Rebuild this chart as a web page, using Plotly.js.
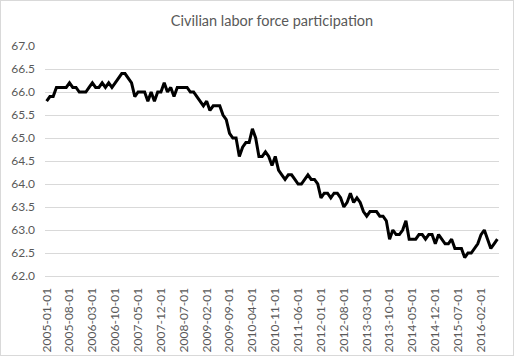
<!DOCTYPE html>
<html>
<head>
<meta charset="utf-8">
<script src="https://cdn.plot.ly/plotly-3.0.1.min.js"></script>
<style>
html,body{margin:0;padding:0;background:#fff;}
#chart{width:514px;height:356px;box-sizing:border-box;border:1px solid #d9d9d9;}
</style>
</head>
<body>
<div id="chart"></div>
<script>
// Monthly civilian labor force participation rate (%)
var v2005 = [65.8, 65.9, 65.9, 66.1, 66.1, 66.1, 66.1, 66.2, 66.1, 66.1, 66.0, 66.0];
var v2006 = [66.0, 66.1, 66.2, 66.1, 66.1, 66.2, 66.1, 66.2, 66.1, 66.2, 66.3, 66.4];
var v2007 = [66.4, 66.3, 66.2, 65.9, 66.0, 66.0, 66.0, 65.8, 66.0, 65.8, 66.0, 66.0];
var v2008 = [66.2, 66.0, 66.1, 65.9, 66.1, 66.1, 66.1, 66.1, 66.0, 66.0, 65.9, 65.8];
var v2009 = [65.7, 65.8, 65.6, 65.7, 65.7, 65.7, 65.5, 65.4, 65.1, 65.0, 65.0, 64.6];
var v2010 = [64.8, 64.9, 64.9, 65.2, 65.0, 64.6, 64.6, 64.7, 64.6, 64.4, 64.6, 64.3];
var v2011 = [64.2, 64.1, 64.2, 64.2, 64.1, 64.0, 64.0, 64.1, 64.2, 64.1, 64.1, 64.0];
var v2012 = [63.7, 63.8, 63.8, 63.7, 63.8, 63.8, 63.7, 63.5, 63.6, 63.8, 63.6, 63.7];
var v2013 = [63.6, 63.4, 63.3, 63.4, 63.4, 63.4, 63.3, 63.3, 63.2, 62.8, 63.0, 62.9];
var v2014 = [62.9, 63.0, 63.2, 62.8, 62.8, 62.8, 62.9, 62.9, 62.8, 62.9, 62.9, 62.7];
var v2015 = [62.9, 62.8, 62.7, 62.7, 62.8, 62.6, 62.6, 62.6, 62.4, 62.5, 62.5, 62.6];
var v2016 = [62.7, 62.9, 63.0, 62.8, 62.6, 62.7, 62.8];

var startYear = 2005;
var tickStep = 7;
var yTicks = [62.0, 62.5, 63.0, 63.5, 64.0, 64.5, 65.0, 65.5, 66.0, 66.5, 67.0];

var values = [].concat(v2005, v2006, v2007, v2008, v2009, v2010, v2011, v2012, v2013, v2014, v2015, v2016);
var dates = [];
for (var i = 0; i < values.length; i++) {
  var y = startYear + Math.floor(i / 12);
  var m = (i % 12) + 1;
  dates.push(y + '-' + (m < 10 ? '0' + m : m) + '-01');
}
var tickDates = dates.filter(function (d, i) { return i % tickStep === 0; });

var trace = {
  x: dates,
  y: values,
  type: 'scatter',
  mode: 'lines',
  line: {color: '#000000', width: 3},
  hoverinfo: 'x+y'
};

var layout = {
  width: 512,
  height: 354,
  margin: {l: 44, r: 14, t: 45, b: 79},
  paper_bgcolor: '#ffffff',
  plot_bgcolor: '#ffffff',
  showlegend: false,
  title: {
    text: 'Civilian labor force participation',
    font: {family: 'Lato, "Open Sans", sans-serif', size: 14.5, color: '#595959'},
    x: 0.5, xanchor: 'center', y: 0.945, yanchor: 'middle', xref: 'paper'
  },
  xaxis: {
    type: 'category',
    categoryorder: 'array',
    categoryarray: dates,
    tickmode: 'array',
    tickvals: tickDates,
    ticktext: tickDates,
    tickangle: -90,
    ticks: '',
    showgrid: false,
    showline: true,
    linecolor: '#d9d9d9',
    linewidth: 1,
    zeroline: false,
    ticklabelstandoff: 6,
    tickfont: {family: 'Lato, "Open Sans", sans-serif', size: 12, color: '#595959'},
    range: [-0.5, dates.length - 0.5]
  },
  yaxis: {
    range: [62, 67],
    tickmode: 'array',
    tickvals: yTicks,
    ticktext: yTicks.map(function (t) { return t.toFixed(1); }),
    showgrid: true,
    gridcolor: '#d9d9d9',
    gridwidth: 1,
    zeroline: false,
    showline: false,
    ticks: '',
    ticklabelstandoff: 9,
    tickfont: {family: 'Lato, "Open Sans", sans-serif', size: 12, color: '#595959'}
  }
};

Plotly.newPlot('chart', [trace], layout, {displayModeBar: false, staticPlot: true});
</script>
</body>
</html>
